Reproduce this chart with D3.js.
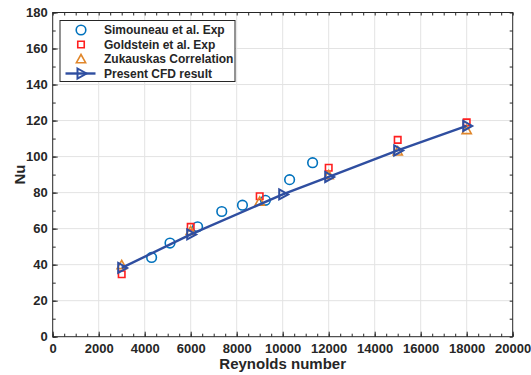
<!DOCTYPE html>
<html>
<head>
<meta charset="utf-8">
<script src="https://cdn.jsdelivr.net/npm/d3@7"></script>
<style>
  body { margin: 0; background: #fff; }
  text { font-family: "Liberation Sans", Arial, sans-serif; font-weight: bold; }
</style>
</head>
<body>
<script>
// data
const simRe  = [4300, 5100, 6300, 7350, 8250, 9250, 10300, 11300];
const simNu  = [44, 52, 61, 69.5, 73, 75.7, 87.2, 96.6];
const goldRe = [3000, 6000, 9000, 12000, 15000, 18000];
const goldNu = [34.7, 61, 78, 93.8, 109.3, 119];
const zukRe  = [3000, 6000, 9000, 12000, 15000, 18000];
const zukNu  = [39.6, 58.5, 74.8, 89.5, 102.7, 114.5];
const cfdRe  = [3000, 6000, 10000, 12000, 15000, 18000];
const cfdNu  = [38.2, 56.8, 79, 88.7, 103.4, 117];
const xTicks = d3.range(0, 20001, 2000);
const yTicks = d3.range(0, 181, 20);
const legendNames = ["Simouneau et al. Exp", "Goldstein et al. Exp", "Zukauskas Correlation", "Present CFD result"];

const svgSize = {width: 531, height: 375};
const margin = {top: 12.5, right: 18.3, bottom: 38.3, left: 52.7};
const width = svgSize.width - margin.left - margin.right,
      height = svgSize.height - margin.top - margin.bottom;

const cBlue = "#0072BD", cRed = "#FF1F1F", cOrange = "#E0862A", cCfd = "#2F4EA0";

let svg = d3.select("body").append("svg")
    .attr("width", svgSize.width)
    .attr("height", svgSize.height),
  g = svg.append("g").attr("transform", `translate(${margin.left},${margin.top})`);

let x = d3.scaleLinear().domain([0, 20000]).range([0, width]);
let y = d3.scaleLinear().domain([0, 180]).range([height, 0]);

// grid
g.append("g").selectAll("line").data(xTicks.slice(1, -1)).join("line")
  .attr("x1", d => x(d)).attr("x2", d => x(d)).attr("y1", 0).attr("y2", height)
  .attr("stroke", "#e3e3e3").attr("stroke-width", 1);
g.append("g").selectAll("line").data(yTicks.slice(1, -1)).join("line")
  .attr("y1", d => y(d)).attr("y2", d => y(d)).attr("x1", 0).attr("x2", width)
  .attr("stroke", "#e3e3e3").attr("stroke-width", 1);

// axes (ticks inside, box)
function styleAxis(sel) {
  sel.select(".domain").remove();
  sel.selectAll("line").attr("stroke", "#262626");
  sel.selectAll("text").attr("fill", "#262626").style("font-size", "13px");
}
const xMinor = d3.range(0, 20001, 500), yMinor = d3.range(0, 181, 10);

g.append("g").attr("transform", `translate(0,${height})`)
  .call(d3.axisBottom(x).tickValues(xTicks).tickSize(-5).tickPadding(7).tickFormat(d3.format("d")))
  .call(styleAxis);
g.append("g").attr("transform", `translate(0,${height})`)
  .call(d3.axisBottom(x).tickValues(xMinor).tickSize(-3).tickFormat(""))
  .call(styleAxis);
g.append("g")
  .call(d3.axisTop(x).tickValues(xMinor).tickSize(-3).tickFormat(""))
  .call(styleAxis);
g.append("g")
  .call(d3.axisLeft(y).tickValues(yTicks).tickSize(-5).tickPadding(5))
  .call(styleAxis);
g.append("g")
  .call(d3.axisLeft(y).tickValues(yMinor).tickSize(-3).tickFormat(""))
  .call(styleAxis);
g.append("g").attr("transform", `translate(${width},0)`)
  .call(d3.axisRight(y).tickValues(yMinor).tickSize(-3).tickFormat(""))
  .call(styleAxis);

g.append("rect").attr("width", width).attr("height", height)
  .attr("fill", "none").attr("stroke", "#262626").attr("stroke-width", 1);

// axis titles
svg.append("text").attr("x", margin.left + width / 2).attr("y", 369)
  .attr("text-anchor", "middle").style("font-size", "15px").attr("fill", "#262626")
  .text("Reynolds number");
svg.append("text").attr("transform", `translate(25,${margin.top + height / 2}) rotate(-90)`)
  .attr("text-anchor", "middle").style("font-size", "15px").attr("fill", "#262626")
  .text("Nu");

// marker shapes
const sqr = d3.symbol().type(d3.symbolSquare).size(42);
const tri = "M0,-5L4.6,3.2L-4.6,3.2Z";
const rtri = "M-3.5,-5L5.5,0L-3.5,5Z";

function circles(sel, xs, ys) {
  sel.selectAll("circle").data(xs).join("circle")
    .attr("cx", d => x(d)).attr("cy", (d, i) => y(ys[i])).attr("r", 4.8)
    .attr("fill", "none").attr("stroke", cBlue).attr("stroke-width", 1.6);
}

// data series
let sim = g.append("g");
circles(sim, simRe, simNu);

g.append("g").selectAll("path").data(goldRe).join("path")
  .attr("transform", (d, i) => `translate(${x(d)},${y(goldNu[i])})`)
  .attr("d", sqr).attr("fill", "none").attr("stroke", cRed).attr("stroke-width", 1.6);

g.append("g").selectAll("path").data(zukRe).join("path")
  .attr("transform", (d, i) => `translate(${x(d)},${y(zukNu[i])})`)
  .attr("d", tri).attr("fill", "none").attr("stroke", cOrange).attr("stroke-width", 1.6);

let line = d3.line().x(d => x(d[0])).y(d => y(d[1]));
g.append("path").datum(d3.zip(cfdRe, cfdNu)).attr("d", line)
  .attr("fill", "none").attr("stroke", cCfd).attr("stroke-width", 2.4);
g.append("g").selectAll("path").data(cfdRe).join("path")
  .attr("transform", (d, i) => `translate(${x(d)},${y(cfdNu[i])})`)
  .attr("d", rtri).attr("fill", "none").attr("stroke", cCfd).attr("stroke-width", 2);

// legend
let leg = svg.append("g").attr("transform", "translate(60,20.5)");
leg.append("rect").attr("width", 175).attr("height", 61)
  .attr("fill", "#fff").attr("stroke", "#262626").attr("stroke-width", 1);
const ly = [9.5, 24, 38.5, 53];
leg.append("circle").attr("cx", 21).attr("cy", ly[0]).attr("r", 4.8)
  .attr("fill", "none").attr("stroke", cBlue).attr("stroke-width", 1.6);
leg.append("path").attr("transform", `translate(21,${ly[1]})`).attr("d", sqr)
  .attr("fill", "none").attr("stroke", cRed).attr("stroke-width", 1.6);
leg.append("path").attr("transform", `translate(21,${ly[2] + 0.5})`).attr("d", tri)
  .attr("fill", "none").attr("stroke", cOrange).attr("stroke-width", 1.6);
leg.append("line").attr("x1", 5.5).attr("x2", 35.5).attr("y1", ly[3]).attr("y2", ly[3])
  .attr("stroke", cCfd).attr("stroke-width", 2.4);
leg.append("path").attr("transform", `translate(21,${ly[3]})`).attr("d", rtri)
  .attr("fill", "none").attr("stroke", cCfd).attr("stroke-width", 2);
leg.selectAll("text.lab").data(legendNames).join("text").attr("class", "lab")
  .attr("x", 44).attr("y", (d, i) => ly[i] + 4.3)
  .style("font-size", "12px").attr("fill", "#262626")
  .text(d => d);
</script>
</body>
</html>
